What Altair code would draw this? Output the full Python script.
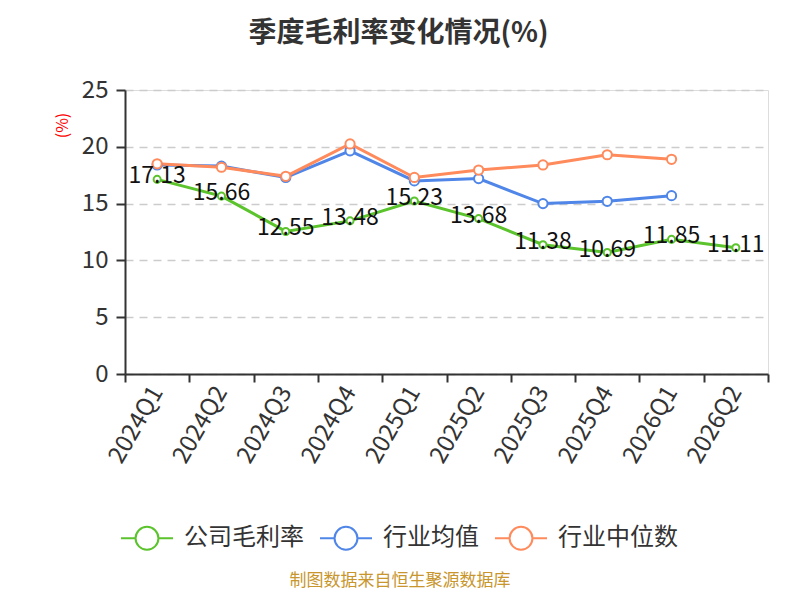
import altair as alt
import pandas as pd

quarters = ["2024Q1", "2024Q2", "2024Q3", "2024Q4", "2025Q1",
            "2025Q2", "2025Q3", "2025Q4", "2026Q1", "2026Q2"]
company = [17.13, 15.66, 12.55, 13.48, 15.23, 13.68, 11.38, 10.69, 11.85, 11.11]
industry_avg = [18.4, 18.3, 17.3, 19.65, 17.0, 17.2, 15.0, 15.2, 15.7]
industry_median = [18.5, 18.2, 17.4, 20.25, 17.3, 17.95, 18.4, 19.3, 18.9]
series_names = ["公司毛利率", "行业均值", "行业中位数"]
colors = ["#5bc32c", "#4f86e8", "#ff8a5b"]
source_text = ["制图数据来自恒生聚源数据库"]

rows = []
for name, vals in [(series_names[1], industry_avg),
                   (series_names[2], industry_median),
                   (series_names[0], company)]:
    for q, v in zip(quarters, vals):
        rows.append({"quarter": q, "series": name, "value": v})
df = pd.DataFrame(rows)

FONT = "Noto Sans CJK SC"

legend_path = ("M-1,0L-0.44,0M0.44,0L1,0"
               "M0.44,0A0.44,0.44,0,1,1,-0.44,0A0.44,0.44,0,1,1,0.44,0")

legend = alt.Legend(
    title=None, orient="none", direction="horizontal",
    legendX=-5, legendY=421,
    symbolType=legend_path, symbolSize=2704, symbolStrokeWidth=2,
    symbolFillColor="white",
    labelFont=FONT, labelFontSize=24, labelColor="#333333",
    labelOffset=10, columnPadding=12,
)

x_enc = alt.X("quarter:N", sort=quarters, bandPosition=0.5,
              scale=alt.Scale(type="band", domain=quarters, paddingInner=0, paddingOuter=0),
              axis=alt.Axis(title=None, labelAngle=-60, labelAlign="right",
                            labelBaseline="middle", labelFont=FONT, labelFontSize=24,
                            labelColor="#333333", labelPadding=6, tickBand="extent",
                            tickSize=8, tickWidth=2, tickColor="#333333",
                            domainColor="#333333", domainWidth=2, grid=False))
y_enc = alt.Y("value:Q",
              scale=alt.Scale(domain=[0, 25], nice=False, zero=True),
              axis=alt.Axis(title="(%)", titleColor="red", titleFont=FONT,
                            titleFontSize=16, titleFontWeight="normal",
                            titleAngle=-90, titleX=-63, titleY=35,
                            titleAlign="center", titleBaseline="middle",
                            values=[0, 5, 10, 15, 20, 25],
                            labelFont=FONT, labelFontSize=24, labelColor="#333333",
                            labelPadding=8, tickSize=9, tickWidth=2,
                            tickColor="#333333", domainColor="#333333", domainWidth=2,
                            grid=True, gridColor="#cccccc", gridDash=[8, 6],
                            gridWidth=1.5))

color_enc = alt.Color("series:N", scale=alt.Scale(domain=series_names, range=colors),
                      legend=legend, sort=series_names)

base = alt.Chart(df)

lines = base.mark_line(strokeWidth=3).encode(x=x_enc, y=y_enc, color=color_enc)


def point_layer(idx, size):
    return base.transform_filter(
        alt.datum.series == series_names[idx]
    ).mark_point(shape="circle", filled=False, fill="white", opacity=1,
                 strokeWidth=2, size=size, stroke=colors[idx]).encode(x=x_enc, y=y_enc)


p_avg = point_layer(1, 85)
p_med = point_layer(2, 85)
p_com = point_layer(0, 50)

labels = base.transform_filter(
    alt.datum.series == series_names[0]
).mark_text(font=FONT, fontSize=23, color="#111111", baseline="middle",
            align="center", dy=-3).encode(
    x=x_enc, y=y_enc, text=alt.Text("value:Q", format=".2f"))

src = alt.Chart(pd.DataFrame({"t": source_text})).mark_text(
    font=FONT, fontSize=17, color="#c8962d", align="center", baseline="middle"
).encode(text="t:N", x=alt.value(275), y=alt.value(491))

chart = alt.layer(lines, p_avg, p_med, p_com, labels, src).properties(
    width=643, height=284,
    title=alt.TitleParams("季度毛利率变化情况(%)", font=FONT, fontSize=28,
                          fontWeight="bold", color="#333333", anchor="middle",
                          dx=-48, offset=30),
    autosize=alt.AutoSizeParams(type="none"),
    padding={"left": 117, "top": 82, "right": 24, "bottom": 218},
).configure_view(stroke=None).configure(background="white")

chart.save("out.html", embed_options={"renderer": "svg", "actions": False})
